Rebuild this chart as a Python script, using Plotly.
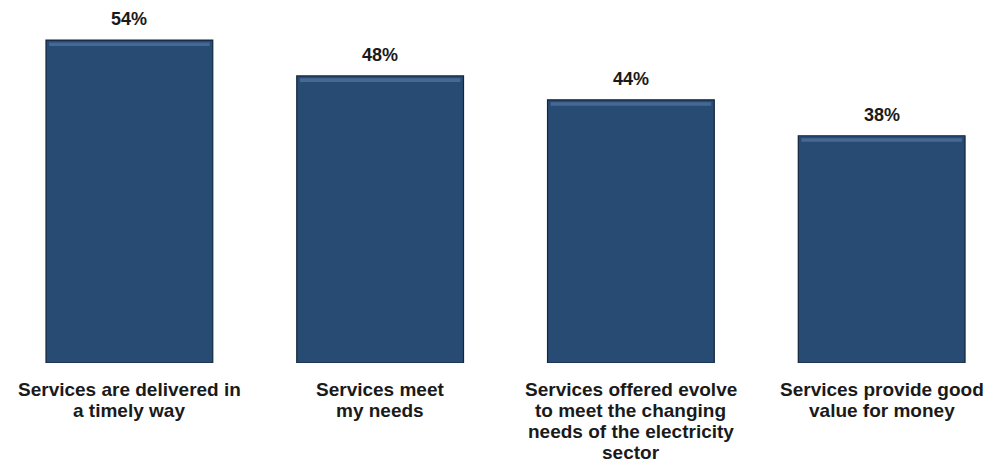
import plotly.graph_objects as go

categories = [
    "Services are delivered in<br>a timely way",
    "Services meet<br>my needs",
    "Services offered evolve<br>to meet the changing<br>needs of the electricity<br>sector",
    "Services provide good<br>value for money",
]
values = [54, 48, 44, 38]
value_labels = [f"{v}%" for v in values]

FONT = "Liberation Sans, Arial, sans-serif"
FILL = "#284B74"
EDGE = "#13253C"
HIGHLIGHT = "#5579A3"
TEXT = "#1a1a1a"
LINE_STEP = 21.3   # px between category label lines
FIRST_LINE = 26    # px from the bar base to the first label line

fig = go.Figure()

# main bars
fig.add_trace(go.Bar(
    x=categories,
    y=values,
    width=0.665,
    marker=dict(color=FILL, line=dict(color=EDGE, width=1.2)),
    hoverinfo="skip",
))

# light bevel along the top of each bar
fig.add_trace(go.Bar(
    x=categories,
    y=[0.6] * len(values),
    base=[v - 1.0 for v in values],
    width=0.64,
    marker=dict(color=HIGHLIGHT, line=dict(width=0)),
    opacity=0.65,
    hoverinfo="skip",
))

# value labels above the bars
for cat, v, lab in zip(categories, values, value_labels):
    fig.add_annotation(
        x=cat, y=v, text=lab, showarrow=False,
        yanchor="bottom", yshift=9,
        font=dict(family=FONT, size=18, color=TEXT, weight="bold"),
    )

# category labels under the bars, one line at a time for tight leading
for cat in categories:
    for i, line in enumerate(cat.split("<br>")):
        fig.add_annotation(
            x=cat, y=0, yref="y", text=line, showarrow=False,
            yanchor="middle", yshift=-(FIRST_LINE + i * LINE_STEP),
            font=dict(family=FONT, size=19, color=TEXT, weight="bold"),
        )

fig.update_layout(
    width=992,
    height=468,
    margin=dict(l=4, r=0, t=0, b=105),
    paper_bgcolor="white",
    plot_bgcolor="white",
    barmode="overlay",
    showlegend=False,
    font=dict(family=FONT, color=TEXT),
)
fig.update_xaxes(
    range=[-0.5, 3.44],
    showgrid=False,
    showline=False,
    zeroline=False,
    ticks="",
    showticklabels=False,
)
fig.update_yaxes(
    range=[0, 60.7],
    visible=False,
    showgrid=False,
    zeroline=False,
)

fig.write_html("out.html")
